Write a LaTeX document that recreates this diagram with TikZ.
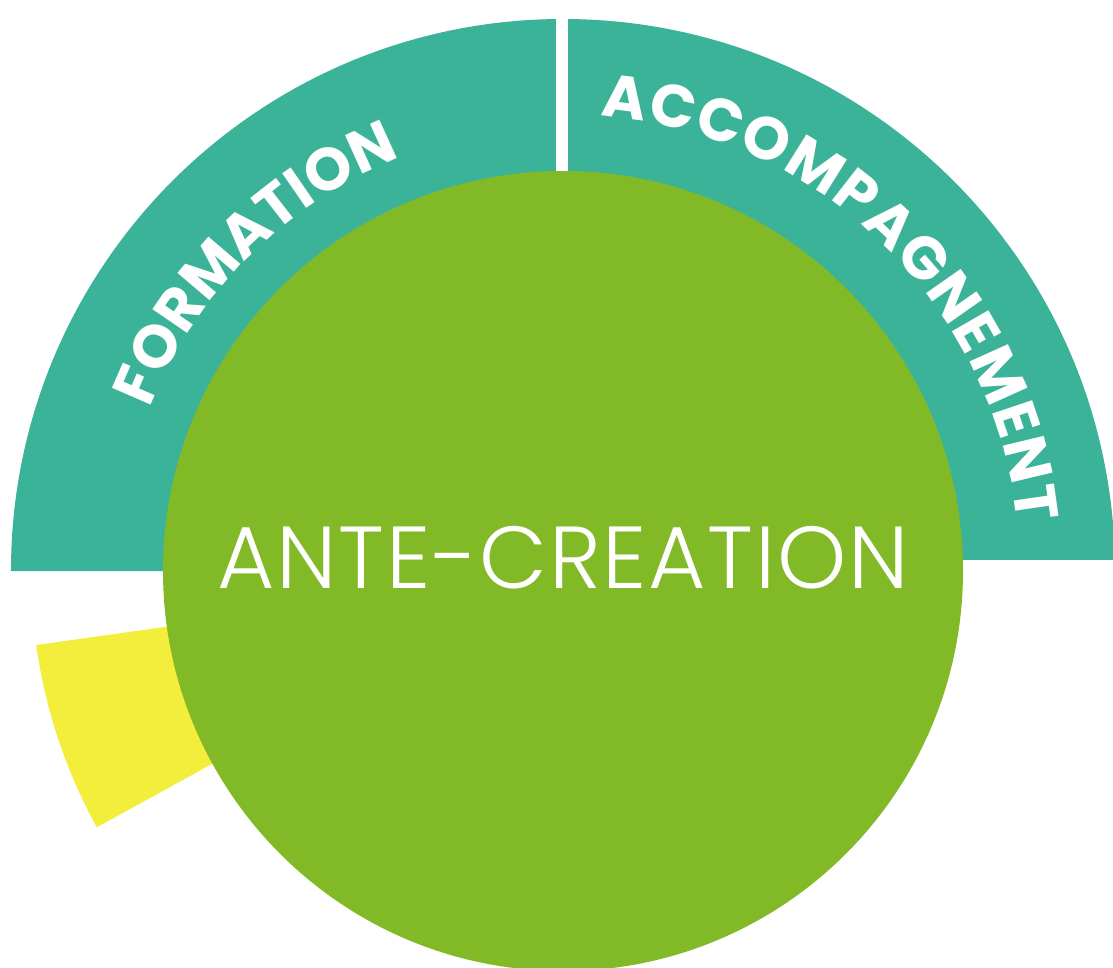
\documentclass[tikz,border=0pt]{standalone}
\usepackage{fontspec}
\setmainfont{Poppins}
\newfontfamily\poplight[LetterSpace=2.0]{Poppins Light}
\usetikzlibrary{decorations.text}
\definecolor{ringteal}{RGB}{59,179,152}
\definecolor{coregreen}{RGB}{130,186,39}
\definecolor{sunyellow}{RGB}{242,238,59}
\tikzset{
  sector/.style={fill=ringteal},
  arclabel/.style={decorate,decoration={text along path,text align=fit to path,
     text={|\bfseries\fontsize{60}{60}\selectfont\color{white}|#1}}},
}
\begin{document}
\begin{tikzpicture}[x=1pt,y=1pt]
\useasboundingbox (-563,-396) rectangle (550,571);
\coordinate (C) at (0,0);
% teal sectors
\fill[sector] (C) -- (180:552) arc[start angle=180,end angle=0,radius=552] -- cycle;
\fill[white] (-7,0) rectangle (5,600);
\fill[white] (300,-30) rectangle (600,11);
% yellow sector
\fill[sunyellow] (C) -- (188:532) arc[start angle=188,end angle=208.8,radius=532] -- cycle;
% green circle
\node[circle,fill=coregreen,minimum size=800pt,inner sep=0pt] (core) at (C) {};
\node[anchor=base,text=white,font=\poplight\fontsize{88}{88}\selectfont] (title) at (0,-17) {ANTE-CREATION};
% curved labels
\path[arclabel=FORMATION] (158.5:444) arc[start angle=158.5,end angle=111.5,radius=444];
\path[arclabel=ACCOMPAGNEMENT] (85.3:457) arc[start angle=85.3,end angle=6,radius=457];
\end{tikzpicture}
\end{document}
